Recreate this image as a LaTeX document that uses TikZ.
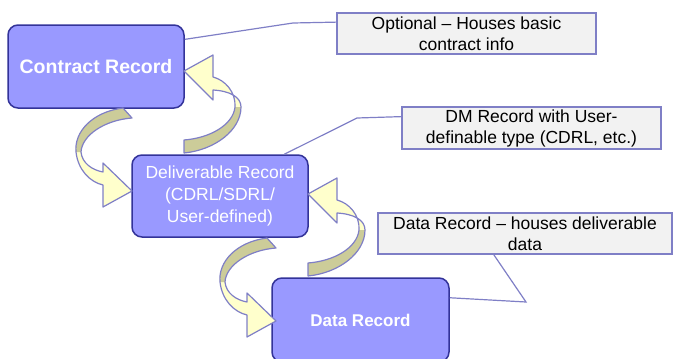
\documentclass[tikz,border=0pt]{standalone}
\usepackage{fontspec}
\setmainfont{Liberation Sans}
\usetikzlibrary{calc}
\definecolor{recfill}{HTML}{9999FF}
\definecolor{recline}{HTML}{333399}
\definecolor{notefill}{HTML}{F2F2F2}
\definecolor{noteline}{HTML}{7F7FC6}
\definecolor{turnfill}{HTML}{FFFFCC}
\definecolor{turnback}{HTML}{CCCC99}
\tikzstyle{record} = [rectangle, rounded corners=10pt, draw=recline, line width=1.5pt, fill=recfill, text=white, minimum width=176pt, minimum height=83pt, align=center, inner sep=0pt]
\tikzstyle{note} = [rectangle, draw=noteline, line width=1.2pt, fill=notefill, minimum width=259pt, minimum height=41pt, align=center, inner sep=0pt, font=\fontsize{17.5}{21}\selectfont]
\tikzstyle{leader} = [draw=noteline, line width=1.2pt]
\tikzstyle{turn} = [draw=noteline, line width=1.2pt, line join=round]

% curved block arrow going down, tip at #1
\newcommand{\turndown}[1]{%
  \begin{scope}[shift={#1}]
    \fill[turnfill] (-9,-83) .. controls (-40,-79) and (-58,-59) .. (-56,-39) .. controls (-54,-21) and (-42,-9) .. (-29,-6)
      -- (-29,16) -- (0,0) -- (-29,-28) -- (-29,-19) .. controls (-40,-21) and (-50,-28) .. (-51,-39)
      .. controls (-50,-56) and (-27,-71) .. (0,-73) -- cycle;
    \fill[turnback] (-9,-83) .. controls (-40,-79) and (-58,-59) .. (-56,-39) -- (-51,-39)
      .. controls (-50,-56) and (-27,-71) .. (0,-73) -- cycle;
    \draw[turn] (-9,-83) .. controls (-40,-79) and (-58,-59) .. (-56,-39) .. controls (-54,-21) and (-42,-9) .. (-29,-6)
      -- (-29,16) -- (0,0) -- (-29,-28) -- (-29,-19) .. controls (-40,-21) and (-50,-28) .. (-51,-39)
      .. controls (-50,-56) and (-27,-71) .. (0,-73) -- cycle;
  \end{scope}}
% curved block arrow going up, tip at #1
\newcommand{\turnup}[1]{%
  \begin{scope}[shift={#1}]
    \fill[turnfill] (0,82) .. controls (31,79) and (57,59) .. (57,36) .. controls (57,26) and (46,20) .. (29,19)
      -- (29,29) -- (0,0) -- (29,-16) -- (29,6) .. controls (41,9) and (52,21) .. (51,36)
      .. controls (49,54) and (26,67) .. (0,69) -- cycle;
    \fill[turnback] (0,82) .. controls (31,79) and (57,59) .. (57,36) -- (51,36)
      .. controls (49,54) and (26,67) .. (0,69) -- cycle;
    \draw[turn] (0,82) .. controls (31,79) and (57,59) .. (57,36) .. controls (57,26) and (46,20) .. (29,19)
      -- (29,29) -- (0,0) -- (29,-16) -- (29,6) .. controls (41,9) and (52,21) .. (51,36)
      .. controls (49,54) and (26,67) .. (0,69) -- cycle;
  \end{scope}}

\begin{document}
\begin{tikzpicture}[x=1pt, y=-1pt]
\useasboundingbox (0,0) rectangle (673,359);

% records
\node[record, font=\bfseries\fontsize{19.5}{23}\selectfont] (contract) at (96,66.5) {Contract Record};
\node[record, minimum height=82pt, font=\fontsize{17.5}{21.7}\selectfont] (deliv) at (220,196) {Deliverable Record\\(CDRL/SDRL/\\User-defined)};
\node[record, minimum width=177pt, minimum height=84pt, font=\bfseries\fontsize{17}{20}\selectfont] (data) at (360.5,320) {Data Record};

% notes
\node[note] (optnote) at (466.5,33.5) {Optional -- Houses basic\\contract info};
\node[note, minimum height=42pt] (dmnote) at (531.5,128) {DM Record with User-\\definable type (CDRL, etc.)};
\node[note, minimum width=294pt] (datanote) at (525,233.5) {Data Record -- houses deliverable\\data};

% leaders
\draw[leader] (contract.17) -- (293,23) -- (optnote.175);
\draw[leader] (deliv.33) -- (357,118) -- (dmnote.175);
\draw[leader] (data.14) -- (526,302) -- (datanote.214);

% curved arrows
\turndown{(132,191)}
\turnup{(184,71)}
\turndown{(276,321)}
\turnup{(308,194)}
\end{tikzpicture}
\end{document}
